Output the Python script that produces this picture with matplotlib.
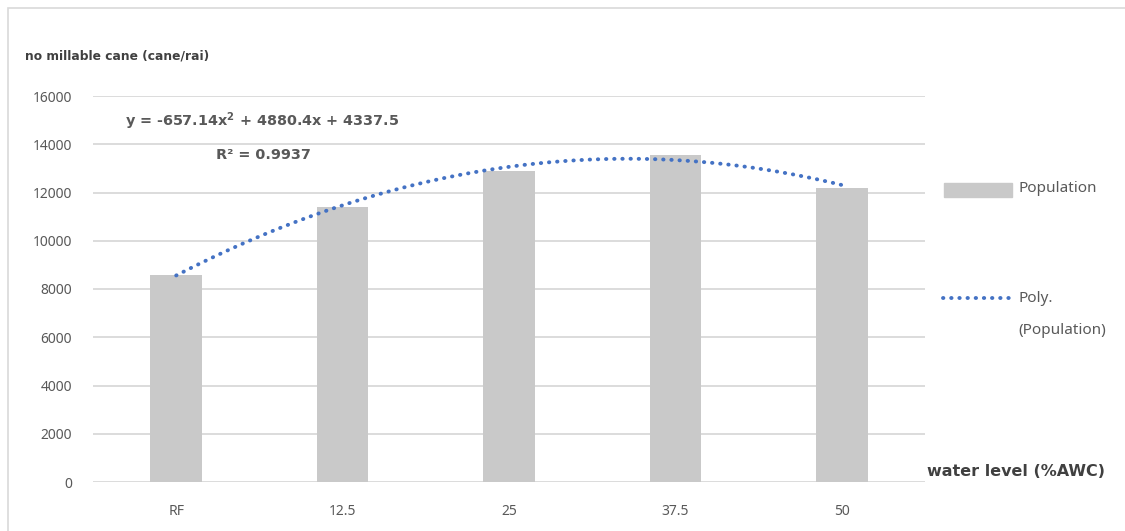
import numpy as np
import matplotlib.pyplot as plt
from matplotlib.patches import Rectangle
from matplotlib.lines import Line2D

# water level treatments and cane counts
levels = ["RF", "12.5", "25", "37.5", "50"]
population = [8600, 11400, 12900, 13550, 12200]

# second order trendline coefficients (x = 1..5)
poly_a, poly_b, poly_c = -657.14, 4880.4, 4337.5
r_squared = 0.9937

plt.rcParams['font.family'] = ['Noto Sans', 'DejaVu Sans']
plt.rcParams['mathtext.fontset'] = 'dejavusans'
bold_font = ['DejaVu Sans']
text_grey = '#595959'

fig = plt.figure(figsize=(11.25, 5.31), dpi=100)
W, H = 1125, 531
ax = fig.add_axes([93 / W, 49 / H, 832 / W, 386 / H])

pos = np.arange(1, len(levels) + 1)
ax.bar(pos, population, width=0.31, color='#C9C9C9', zorder=2)

xs = np.linspace(1, 5, 200)
ax.plot(xs, poly_a * xs**2 + poly_b * xs + poly_c, color='#4472C4',
        linestyle=(0, (0.1, 2.0)), linewidth=2.8, dash_capstyle='round', zorder=3)

ax.set_xlim(0.5, 5.5)
ax.set_ylim(0, 16000)
ax.set_yticks(range(0, 16001, 2000))
ax.set_xticks(pos)
ax.set_xticklabels(levels)
ax.yaxis.grid(True, color='#D9D9D9', linewidth=1.3, zorder=0)
ax.set_axisbelow(True)
for s in ax.spines.values():
    s.set_visible(False)
ax.tick_params(axis='both', length=0, colors=text_grey, labelsize=10)
ax.tick_params(axis='x', pad=16)
ax.tick_params(axis='y', pad=15)

# trendline equation
fig.text(125 / W, 1 - 121 / H, r'y = -657.14x$^\mathbf{2}$ + 4880.4x + 4337.5',
         fontsize=10.4, color=text_grey, fontweight='bold', va='center',
         family=bold_font)
fig.text(216 / W, 1 - 155 / H, f'R² = {r_squared}',
         fontsize=10.4, color=text_grey, fontweight='bold', va='center',
         family=bold_font)

# axis titles
fig.text(25 / W, 1 - 56 / H, 'no millable cane (cane/rai)',
         fontsize=8.8, color='#404040', fontweight='bold', va='center',
         family=bold_font)
fig.text(927 / W, 1 - 472 / H, 'water level (%AWC)',
         fontsize=11.5, color='#404040', fontweight='bold', va='center',
         family=bold_font)

# legend
fig.patches.append(Rectangle((944 / W, 1 - 197 / H), 68 / W, 14 / H,
                             transform=fig.transFigure, color='#C9C9C9'))
fig.text(1018 / W, 1 - 189 / H, 'Population', fontsize=11, color=text_grey, va='center')
fig.lines.append(Line2D([943 / W, 1011 / W], [1 - 298 / H, 1 - 298 / H],
                        transform=fig.transFigure, color='#4472C4',
                        linestyle=(0, (0.1, 2.0)), linewidth=2.8,
                        dash_capstyle='round'))
fig.text(1018 / W, 1 - 298 / H, 'Poly.', fontsize=11, color=text_grey, va='center')
fig.text(1018 / W, 1 - 330 / H, '(Population)', fontsize=11, color=text_grey, va='center')

# chart border (left and top edges)
fig.patches.append(Rectangle((8 / W, -0.01), 1.0, 1 - 8 / H + 0.01,
                             transform=fig.transFigure, fill=False,
                             edgecolor='#D9D9D9', linewidth=1.2))

fig.savefig('out.png', dpi=100)
